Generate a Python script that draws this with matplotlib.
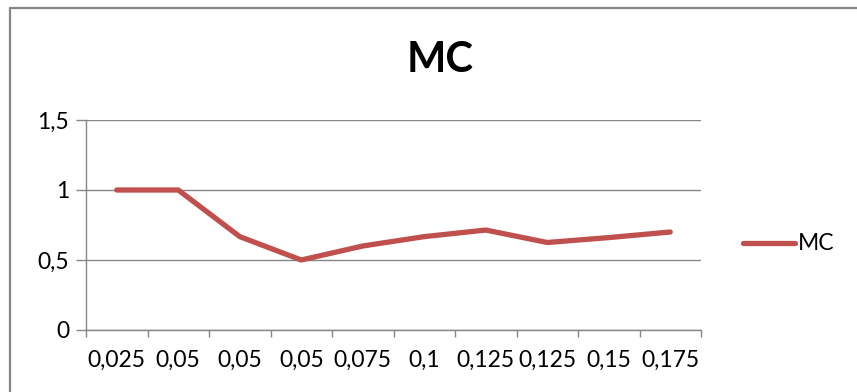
import numpy as np
import matplotlib.pyplot as plt
from matplotlib.lines import Line2D
from matplotlib.ticker import MultipleLocator, FixedLocator, FuncFormatter

plt.rcParams['font.family'] = ['Lato', 'DejaVu Sans']

categories = ['0,025', '0,05', '0,05', '0,05', '0,075', '0,1', '0,125', '0,125', '0,15', '0,175']
mc_values = [1.0, 1.0, 0.667, 0.5, 0.6, 0.667, 0.714, 0.625, 0.66, 0.70]

W, H = 857, 392
fig = plt.figure(figsize=(W / 100, H / 100), dpi=100)
ax = fig.add_axes([86 / W, 1 - 330 / H, (701 - 86) / W, (330 - 120) / H])

grey = '#868686'
red = '#C0504D'
fs = 16.5

x = np.arange(len(categories))
ax.plot(x, mc_values, color=red, lw=3.8, solid_capstyle='round',
        solid_joinstyle='round', label='MC')

ax.set_xlim(-0.5, len(categories) - 0.5)
ax.set_ylim(0, 1.5)
ax.yaxis.set_major_locator(MultipleLocator(0.5))
ax.yaxis.set_major_formatter(FuncFormatter(
    lambda v, p: ('%g' % v).replace('.', ',')))
ax.grid(axis='y', color=grey, lw=1.0)
ax.set_axisbelow(True)

# category labels at centres, tick marks on the boundaries
ax.set_xticks(x)
ax.set_xticklabels(categories)
ax.xaxis.set_minor_locator(FixedLocator(np.arange(-0.5, len(categories), 1.0)))
ax.tick_params(axis='x', which='major', length=0, pad=14, labelsize=fs)
ax.tick_params(axis='x', which='minor', length=5, color=grey, width=1)
ax.tick_params(axis='y', length=7, color=grey, width=1, pad=5, labelsize=fs)

for s in ['top', 'right']:
    ax.spines[s].set_visible(False)
for s in ['left', 'bottom']:
    ax.spines[s].set_color(grey)
    ax.spines[s].set_linewidth(1.0)

fig.text(440 / W, 1 - 60 / H, 'MC', ha='center', va='center',
         fontsize=30, fontweight='bold')

# legend drawn by hand to the right of the plot
fig.add_artist(Line2D([743 / W, 795 / W], [1 - 243 / H, 1 - 243 / H],
                      color=red, lw=3.8, solid_capstyle='round'))
fig.text(798 / W, 1 - 243 / H, 'MC', ha='left', va='center', fontsize=fs)

# chart area frame (top and left edges visible)
fig.add_artist(Line2D([9.5 / W, 9.5 / W, 1.0], [0, 1 - 7.5 / H, 1 - 7.5 / H],
                      color=grey, lw=1.6))

fig.savefig('out.png', dpi=100)
